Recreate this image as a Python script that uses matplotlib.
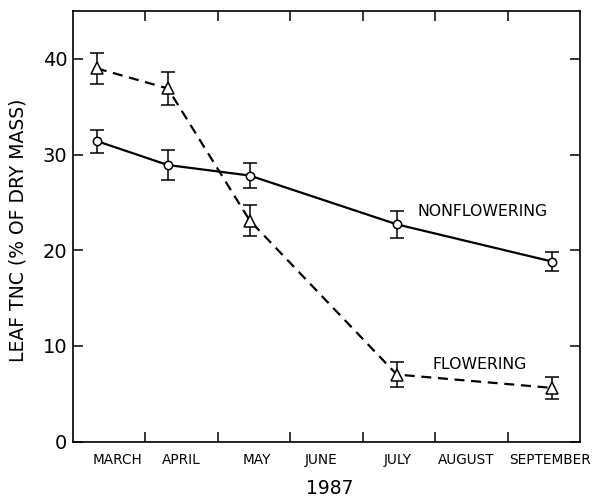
import matplotlib
matplotlib.use("Agg")
import matplotlib.pyplot as plt

months = ["MARCH", "APRIL", "MAY", "JUNE", "JULY", "AUGUST", "SEPTEMBER"]
# sample dates, in months from 1 March
sample_x = [0.33, 1.31, 2.44, 4.47, 6.62]

nonflowering = [31.4, 28.9, 27.8, 22.7, 18.8]
nonflowering_err = [1.2, 1.6, 1.3, 1.4, 1.0]

flowering = [39.0, 36.9, 23.1, 7.0, 5.6]
flowering_err = [1.6, 1.75, 1.6, 1.3, 1.15]

plt.rcParams['font.family'] = ['DejaVu Sans']

fig = plt.figure(figsize=(5.92, 4.97), dpi=100)
ax = fig.add_axes([73 / 592, 1 - 441.5 / 497, (580 - 73) / 592, (441.5 - 11) / 497])

ax.errorbar(sample_x, nonflowering, yerr=nonflowering_err, color="black", lw=1.6,
            marker="o", ms=6, mfc="white", mec="black", mew=1.1,
            ecolor="black", elinewidth=1.1, capsize=5, capthick=1.1)
ax.errorbar(sample_x, flowering, yerr=flowering_err, color="black", lw=1.6, ls=(0, (4.5, 3)),
            marker="^", ms=8, mfc="white", mec="black", mew=1.1,
            ecolor="black", elinewidth=1.1, capsize=5, capthick=1.1)

ax.text(4.75, 24.0, "NONFLOWERING", fontsize=11.3, va="center", ha="left")
ax.text(4.97, 8.0, "FLOWERING", fontsize=11.3, va="center", ha="left")

ax.set_xlim(0, 7)
ax.set_ylim(0, 45)
ax.set_yticks([0, 10, 20, 30, 40])
ax.set_yticklabels(["0", "10", "20", "30", "40"], fontsize=14)
ax.set_xticks([1, 2, 3, 4, 5, 6])
ax.set_xticklabels([])
ax.set_xticks([0.62, 1.5, 2.54, 3.43, 4.48, 5.43, 6.58], minor=True)
ax.set_xticklabels(months, minor=True, fontsize=9.8)
ax.tick_params(axis="both", which="major", direction="in", length=7, width=1.1,
               top=True, right=True)
ax.tick_params(axis="x", which="minor", length=0, pad=8)
ax.tick_params(axis="y", which="major", pad=4)
for s in ax.spines.values():
    s.set_linewidth(1.2)

ax.set_ylabel("LEAF TNC (% OF DRY MASS)", fontsize=13.5)
ax.yaxis.set_label_coords(-0.09, 0.49)
fig.text(330 / 592, 1 - 488 / 497, "1987", fontsize=13.5, ha="center", va="center")

fig.savefig("out.png", dpi=100)
